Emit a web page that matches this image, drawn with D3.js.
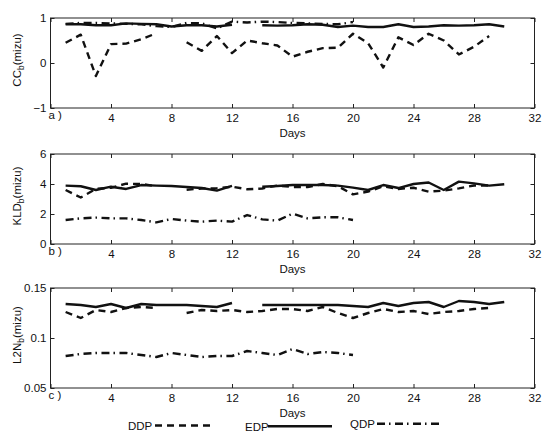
<!DOCTYPE html>
<html>
<head>
<meta charset="utf-8">
<script src="https://cdn.jsdelivr.net/npm/d3@7"></script>
<style>
	body {margin: 0; background: #fff;}
	text {font-family: "Liberation Sans", Arial, sans-serif; fill: #111;}
</style>
</head>
<body>
<svg id="chart" width="546" height="432"></svg>
<script>
// ---- data ----
const days = [1,2,3,4,5,6,7,8,9,10,11,12,13,14,15,16,17,18,19,20,21,22,23,24,25,26,27,28,29,30];
const xTicks = [0,4,8,12,16,20,24,28,32];

// a) CC_b
const ccDDP = [0.45,0.63,-0.29,0.42,0.43,0.53,0.66,null,0.46,0.27,0.6,0.22,0.5,0.44,0.39,0.14,0.25,0.33,0.34,0.65,0.44,-0.1,0.57,0.4,0.65,0.5,0.19,0.36,0.6];
const ccEDP = [0.86,0.86,0.84,0.84,0.88,0.87,0.86,0.81,0.84,0.84,0.81,0.85,null,0.84,0.83,0.84,0.86,0.85,0.8,0.83,0.8,0.8,0.86,0.8,0.81,0.84,0.83,0.84,0.86,0.81];
const ccQDP = [0.87,0.89,0.89,0.88,0.87,0.86,0.82,0.8,0.89,0.88,0.77,0.92,0.9,0.92,0.91,0.89,0.88,0.87,0.86,0.91];

// b) KLD_b
const kldDDP = [3.6,3.1,3.67,3.75,4.02,4.0,3.85,null,3.62,3.7,3.72,3.82,3.65,3.7,3.9,3.8,3.8,4.0,3.85,3.31,3.49,3.85,3.67,3.75,3.49,3.56,3.71,3.9,3.9];
const kldEDP = [3.89,3.85,3.6,3.82,3.67,3.93,3.89,3.87,3.8,3.73,3.56,3.87,null,3.82,3.87,3.93,3.93,3.93,3.89,3.76,3.6,3.93,3.73,4.0,4.1,3.6,4.16,4.04,3.89,3.98];
const kldQDP = [1.6,1.71,1.76,1.71,1.71,1.6,1.44,1.67,1.56,1.49,1.56,1.49,1.93,1.64,1.56,2.02,1.71,1.78,1.78,1.6];

// c) L2N_b
const l2nDDP = [0.126,0.12,0.128,0.126,0.13,0.131,0.13,null,0.125,0.128,0.127,0.128,0.126,0.127,0.129,0.129,0.127,0.131,0.125,0.12,0.125,0.129,0.126,0.127,0.124,0.126,0.127,0.129,0.13];
const l2nEDP = [0.134,0.133,0.131,0.134,0.13,0.134,0.133,0.133,0.133,0.132,0.131,0.135,null,0.133,0.133,0.133,0.133,0.133,0.133,0.132,0.131,0.135,0.132,0.135,0.136,0.131,0.137,0.136,0.134,0.136];
const l2nQDP = [0.082,0.084,0.085,0.085,0.085,0.083,0.081,0.085,0.083,0.081,0.082,0.082,0.087,0.085,0.083,0.089,0.084,0.086,0.085,0.083];

const seriesNames = ["DDP", "EDP", "QDP"];

// ---- look ----
const svg = d3.select("#chart"),
	  fontSize = 11.5,
	  lineWidth = 2.4,
	  tickLen = 4;

const dashes = {"DDP": "7,5", "EDP": null, "QDP": "8,4,1.5,4.5"};

const panels = [
	{tag: "a )", label: "CC", top: 18, bottom: 108, domain: [-1, 1], ticks: [-1, 0, 1],
	 fmt: d => d3.format("d")(d), data: [ccDDP, ccEDP, ccQDP]},
	{tag: "b )", label: "KLD", top: 154, bottom: 244, domain: [0, 6], ticks: [0, 2, 4, 6],
	 fmt: d => d, data: [kldDDP, kldEDP, kldQDP]},
	{tag: "c )", label: "L2N", top: 288, bottom: 388, domain: [0.05, 0.15], ticks: [0.05, 0.1, 0.15],
	 fmt: d => d, data: [l2nDDP, l2nEDP, l2nQDP]}
];

const x = d3.scaleLinear().domain([0, 32]).range([50.5, 534.5]);

panels.forEach(p => {
	const y = d3.scaleLinear().domain(p.domain).range([p.bottom, p.top]);
	const g = svg.append("g").attr("class", "panel");

	// axes, ticks pointing inwards on all four sides
	const bottomAx = g.append("g")
		.attr("transform", `translate(0,${p.bottom})`)
		.call(d3.axisBottom(x).tickValues(xTicks).tickSize(-tickLen).tickPadding(6)
			.tickFormat(d => d === 0 ? "" : d));
	const topAx = g.append("g")
		.attr("transform", `translate(0,${p.top})`)
		.call(d3.axisTop(x).tickValues(xTicks).tickSize(-tickLen).tickFormat(""));
	const leftAx = g.append("g")
		.attr("transform", `translate(${x(0)},0)`)
		.call(d3.axisLeft(y).tickValues(p.ticks).tickSize(-tickLen).tickPadding(4).tickFormat(p.fmt));
	const rightAx = g.append("g")
		.attr("transform", `translate(${x(32)},0)`)
		.call(d3.axisRight(y).tickValues(p.ticks).tickSize(-tickLen).tickFormat(""));

	[bottomAx, topAx, leftAx, rightAx].forEach(ax => {
		ax.select(".domain").remove();
		ax.selectAll("line").attr("stroke", "#222");
		ax.selectAll("text").attr("font-size", fontSize).attr("fill", "#111")
			.attr("font-family", "'Liberation Sans', Arial, sans-serif");
	});
	leftAx.selectAll("text").text(d => p.fmt(d).toString().replace("-", "\u2212"));

	g.append("rect")
		.attr("x", x(0)).attr("y", p.top)
		.attr("width", x(32) - x(0)).attr("height", p.bottom - p.top)
		.attr("fill", "none").attr("stroke", "#222").attr("stroke-width", 1);

	// panel tag and axis titles
	g.append("text")
		.attr("x", x(0) - 2).attr("y", p.bottom + 11)
		.attr("font-size", fontSize)
		.text(p.tag);

	g.append("text")
		.attr("x", x(16)).attr("y", p.bottom + 29)
		.attr("text-anchor", "middle")
		.attr("font-size", fontSize)
		.text("Days");

	const yl = g.append("text")
		.attr("transform", `translate(21,${(p.top + p.bottom) / 2 - 3}) rotate(-90)`)
		.attr("text-anchor", "middle")
		.attr("font-size", fontSize);
	yl.append("tspan").text(p.label);
	yl.append("tspan").attr("font-size", 8.5).attr("dy", 3).text("b");
	yl.append("tspan").attr("dy", -3).text("(mizu)");

	// the three series
	const line = d3.line()
		.defined(d => d.v != null)
		.x(d => x(d.day))
		.y(d => y(d.v));

	p.data.forEach((vals, i) => {
		const pts = vals.map((v, j) => ({day: days[j], v: v}));
		g.append("path")
			.datum(pts)
			.attr("d", line)
			.attr("fill", "none")
			.attr("stroke", "#111")
			.attr("stroke-width", lineWidth)
			.attr("stroke-linejoin", "round")
			.attr("stroke-dasharray", dashes[seriesNames[i]]);
	});
});

// legend along the bottom
const legend = [
	{name: "DDP", tx: 128, x1: 155, x2: 215, y: 425.5},
	{name: "EDP", tx: 245, x1: 268, x2: 332, y: 426.3},
	{name: "QDP", tx: 350, x1: 377, x2: 440, y: 423.7}
];

legend.forEach(l => {
	svg.append("text")
		.attr("x", l.tx).attr("y", l.y + 4.2)
		.attr("font-size", fontSize)
		.text(l.name);
	svg.append("line")
		.attr("x1", l.x1).attr("x2", l.x2)
		.attr("y1", l.y).attr("y2", l.y)
		.attr("stroke", "#111")
		.attr("stroke-width", lineWidth)
		.attr("stroke-dasharray", dashes[l.name]);
});
</script>
</body>
</html>
